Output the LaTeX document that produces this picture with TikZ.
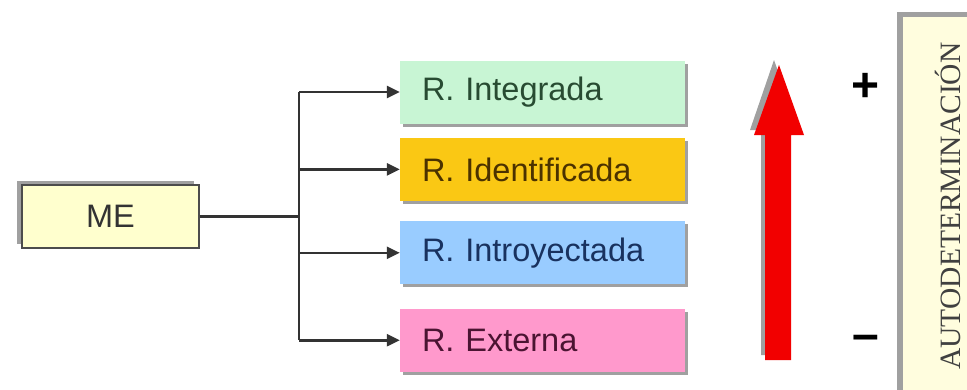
\documentclass[tikz,border=0pt]{standalone}
\usepackage{fontspec}
\setmainfont{Liberation Sans}
\newfontfamily\capsserif{Liberation Serif}
\usepackage{xcolor}
\usepackage{graphicx}
\definecolor{mefill}{RGB}{255,255,206}
\definecolor{integfill}{RGB}{200,245,212}
\definecolor{identfill}{RGB}{250,200,20}
\definecolor{introfill}{RGB}{153,204,255}
\definecolor{extfill}{RGB}{255,153,204}
\definecolor{autofill}{RGB}{255,253,222}
\definecolor{shadowgray}{RGB}{160,160,160}
\usepackage{tikz}
\usetikzlibrary{positioning, shadows, arrows.meta}

\begin{document}
\begin{tikzpicture}[
  x=1pt, y=-1pt,
  node distance=14pt,
  rnode/.style={rectangle, minimum width=285pt, minimum height=63pt, text width=241pt,
               inner xsep=22pt, align=left, font=\fontsize{32.5}{38}\selectfont,
               drop shadow={shadow xshift=3pt, shadow yshift=-3pt, fill=shadowgray, opacity=1}},
  menode/.style={rectangle, draw=black!70, line width=1.4pt, fill=mefill,
               minimum width=177pt, minimum height=63pt, font=\fontsize{32.5}{38}\selectfont,
               text=black!80,
               drop shadow={shadow xshift=-5pt, shadow yshift=4pt, fill=shadowgray, opacity=1}},
  link/.style={line width=2.6pt, color=black!80},
  arr/.style={-{Triangle[length=13pt, width=12pt]}, line width=2.6pt, color=black!80}
]
\clip (0,0) rectangle (967,389);
\fill[white] (0,0) rectangle (967,389);

% ME y ramas
\node[menode] (me) at (110.5,216.5) {ME};
\node[rnode, fill=integfill, text={rgb,255:red,40;green,75;blue,50}] (integ) at (542.5,92) {R. Integrada};
\node[rnode, fill=identfill, text={rgb,255:red,75;green,50;blue,0}, below=14pt of integ] (ident) {R. Identificada};
\node[rnode, fill=introfill, text={rgb,255:red,25;green,50;blue,95}, below=20pt of ident] (intro) {R. Introyectada};
\node[rnode, fill=extfill, text={rgb,255:red,75;green,20;blue,50}, below=24pt of intro] (ext) {R. Externa};

\coordinate (trunk) at (299,216.5);
\draw[link] (me.east) -- (trunk);
\draw[link] (trunk |- integ) -- (trunk |- ext);
\draw[arr] (trunk |- integ) -- (integ.west);
\draw[arr] (trunk |- ident) -- (ident.west);
\draw[arr] (trunk |- intro) -- (intro.west);
\draw[arr] (trunk |- ext)   -- (ext.west);

% flecha roja
\fill[shadowgray] (774,60) -- (799,130) -- (787,130) -- (787,355) -- (761,355)
  -- (761,130) -- (750,130) -- cycle;
\fill[red!95!black] (779,65) -- (804,135) -- (791,135) -- (791,360) -- (765,360)
  -- (765,135) -- (754,135) -- cycle;

\node[font=\fontsize{48}{48}\selectfont\bfseries] (plus)  at (866,87)  {+};
\node[font=\fontsize{48}{48}\selectfont\bfseries] (minus) at (866,343) {–};

% autodeterminacion
\node[rectangle, fill=autofill, minimum width=90pt, minimum height=378pt, inner sep=0pt,
      font=\capsserif\fontsize{29.5}{29.5}\selectfont, text=black!75,
      drop shadow={shadow xshift=-6pt, shadow yshift=5pt, fill=shadowgray, opacity=1}]
  (auto) at (948,206) {\rotatebox{90}{AUTODETERMINACIÓN}};
\end{tikzpicture}
\end{document}
